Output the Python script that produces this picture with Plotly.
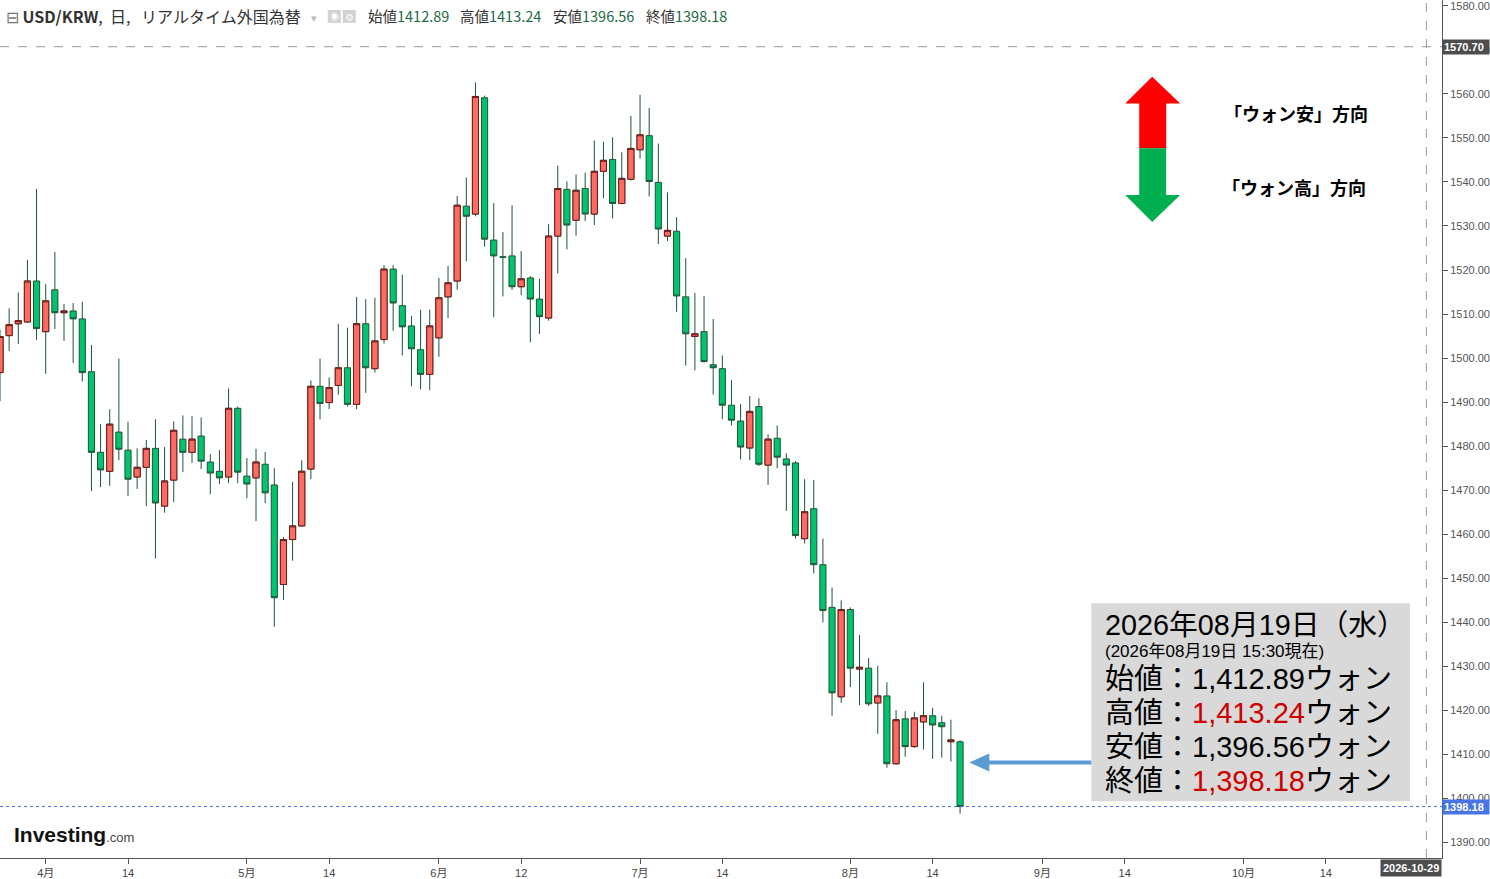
import pandas as pd
import plotly.graph_objects as go

# USD/KRW 日足 (営業日のみ)
dates = pd.bdate_range("2026-03-25", "2026-08-19")

opens = [1496.7, 1505.1, 1507.8, 1508.2, 1517.5, 1506.0, 1515.5, 1510.3, 1510.7, 1508.9,
         1496.9, 1478.6, 1474.3, 1483.2, 1479.1, 1473.0, 1475.2, 1479.5, 1466.4, 1472.3,
         1481.6, 1478.6, 1482.3, 1476.4, 1474.3, 1473.0, 1488.6, 1473.2, 1472.8, 1475.9,
         1471.2, 1448.6, 1458.8, 1461.9, 1474.8, 1493.6, 1489.9, 1493.8, 1497.8, 1489.5,
         1507.8, 1497.6, 1504.2, 1520.2, 1511.9, 1507.3, 1501.9, 1496.3, 1504.6, 1513.9,
         1517.5, 1534.5, 1532.7, 1559.1, 1526.8, 1523.0, 1523.2, 1516.2, 1518.2, 1513.4,
         1509.1, 1527.7, 1538.3, 1531.3, 1538.5, 1532.7, 1542.4, 1545.1, 1535.1, 1540.6,
         1547.3, 1550.5, 1539.9, 1527.7, 1528.8, 1513.9, 1504.9, 1506.0, 1498.5, 1497.6,
         1489.3, 1485.7, 1479.6, 1489.0, 1475.7, 1481.8, 1477.1, 1476.2, 1459.0, 1465.8,
         1453.1, 1443.4, 1423.1, 1442.9, 1429.4, 1429.6, 1421.7, 1423.3, 1407.9, 1418.1,
         1411.8, 1417.4, 1418.8, 1417.2, 1412.9, 1412.89]
highs = [1506.4, 1511.3, 1514.9, 1522.3, 1538.4, 1516.8, 1524.1, 1512.3, 1512.5, 1512.8,
         1503.0, 1485.0, 1488.4, 1499.9, 1485.6, 1479.5, 1481.4, 1486.1, 1479.8, 1485.6,
         1487.0, 1486.8, 1486.5, 1478.2, 1479.1, 1493.1, 1489.0, 1477.3, 1479.4, 1478.7,
         1475.0, 1459.4, 1471.9, 1476.8, 1494.9, 1499.9, 1495.6, 1507.8, 1506.9, 1513.9,
         1513.4, 1513.7, 1521.1, 1521.1, 1518.9, 1509.6, 1511.0, 1511.0, 1518.2, 1520.9,
         1536.8, 1541.0, 1562.6, 1559.6, 1535.2, 1528.6, 1534.7, 1524.3, 1518.6, 1518.0,
         1530.4, 1543.7, 1540.1, 1541.7, 1542.1, 1549.4, 1549.1, 1550.1, 1546.7, 1555.0,
         1559.8, 1556.8, 1548.7, 1537.6, 1532.0, 1522.7, 1514.8, 1514.1, 1508.9, 1500.6,
         1495.0, 1489.6, 1491.4, 1490.9, 1482.7, 1484.7, 1478.4, 1476.6, 1472.5, 1472.3,
         1459.0, 1447.9, 1445.0, 1443.4, 1437.1, 1431.9, 1430.1, 1426.4, 1420.1, 1419.9,
         1419.7, 1426.4, 1420.6, 1418.8, 1417.9, 1413.24]
lows = [1490.2, 1501.6, 1503.2, 1508.1, 1504.1, 1496.4, 1506.6, 1503.9, 1498.9, 1494.7,
        1469.8, 1470.7, 1471.0, 1476.8, 1468.7, 1470.3, 1466.4, 1454.5, 1464.9, 1467.3,
        1474.1, 1476.2, 1474.8, 1469.1, 1471.4, 1471.6, 1471.6, 1468.2, 1463.0, 1467.1,
        1439.0, 1445.1, 1454.0, 1461.7, 1472.5, 1486.1, 1488.4, 1491.7, 1489.0, 1488.4,
        1492.1, 1496.7, 1503.3, 1506.2, 1500.6, 1493.6, 1492.9, 1492.7, 1500.3, 1509.1,
        1515.5, 1522.0, 1532.2, 1525.3, 1509.3, 1514.0, 1515.5, 1514.3, 1503.6, 1505.5,
        1508.5, 1519.2, 1524.7, 1527.8, 1531.1, 1530.2, 1536.3, 1531.7, 1534.9, 1540.3,
        1545.3, 1536.7, 1525.9, 1526.6, 1510.5, 1498.3, 1497.2, 1499.0, 1491.7, 1486.1,
        1484.7, 1477.0, 1476.8, 1475.5, 1471.2, 1475.0, 1465.3, 1459.0, 1457.9, 1451.1,
        1440.0, 1418.8, 1421.7, 1425.3, 1421.2, 1421.0, 1414.7, 1407.0, 1407.7, 1409.5,
        1411.5, 1411.1, 1409.0, 1409.3, 1408.4, 1396.56]
closes = [1504.9, 1507.6, 1508.5, 1517.5, 1506.7, 1513.0, 1510.3, 1510.7, 1508.9, 1496.7,
          1478.6, 1474.6, 1485.0, 1479.3, 1472.5, 1475.2, 1479.5, 1467.1, 1472.1, 1483.6,
          1478.6, 1481.6, 1476.6, 1473.9, 1472.8, 1488.6, 1474.1, 1471.4, 1476.4, 1469.4,
          1445.6, 1458.8, 1461.9, 1474.3, 1493.6, 1489.7, 1493.3, 1497.8, 1489.5, 1507.8,
          1497.8, 1503.9, 1520.2, 1512.5, 1507.1, 1502.1, 1496.3, 1507.3, 1513.7, 1517.1,
          1534.7, 1532.2, 1559.4, 1527.0, 1523.2, 1522.9, 1516.2, 1518.0, 1513.4, 1509.4,
          1527.7, 1538.5, 1530.2, 1538.1, 1532.7, 1542.4, 1544.9, 1535.1, 1540.8, 1547.6,
          1550.7, 1540.1, 1529.3, 1529.0, 1514.1, 1505.5, 1505.5, 1499.2, 1497.8, 1489.3,
          1485.9, 1479.8, 1487.9, 1475.9, 1481.6, 1477.5, 1475.7, 1459.7, 1465.1, 1453.1,
          1442.7, 1424.0, 1442.9, 1429.6, 1429.8, 1421.5, 1423.3, 1407.9, 1417.9, 1411.8,
          1418.3, 1418.8, 1416.7, 1416.3, 1413.3, 1398.18]

tick_dates = ["2026-04-01", "2026-04-14", "2026-05-01", "2026-05-14", "2026-06-01", "2026-06-12",
              "2026-07-01", "2026-07-14", "2026-08-03", "2026-08-14", "2026-09-01", "2026-09-14",
              "2026-10-01", "2026-10-14"]
tick_labels = ["4月", "14", "5月", "14", "6月", "12", "7月", "14", "8月", "14", "9月", "14", "10月", "14"]

crosshair_date = "2026-10-29"
crosshair_price = 1570.70

UP_FILL, UP_LINE = "#FF6A61", "#6E1B1B"
DOWN_FILL, WICK = "#00C46E", "#1C5436"
AXIS = "#555555"
JP = "Noto Sans CJK JP"
LAT = "Liberation Sans, Noto Sans CJK JP"
NB = "\u00a0"

# 描画領域のピクセル -> paper座標
PLOT_W, PLOT_H = 1443, 862


def px(x, y):
    return x / PLOT_W, 1 - y / PLOT_H


def path(points):
    pts = [px(x, y) for x, y in points]
    return "M " + " L ".join(f"{a:.5f},{b:.5f}" for a, b in pts) + " Z"


def rect(x0, y0, x1, y1, color):
    return dict(type="rect", xref="paper", yref="paper", fillcolor=color, line=dict(width=0),
                x0=px(x0, 0)[0], x1=px(x1, 0)[0], y0=px(0, y1)[1], y1=px(0, y0)[1])


fig = go.Figure()

# ヒゲ(全て濃緑)と陰線
fig.add_trace(go.Candlestick(
    x=dates, open=opens, high=highs, low=lows, close=closes,
    increasing=dict(line=dict(color=WICK, width=1), fillcolor=UP_FILL),
    decreasing=dict(line=dict(color=WICK, width=1), fillcolor=DOWN_FILL),
    whiskerwidth=0, hoverinfo="skip",
))

# 陽線の実体(赤枠)を上から重ねる
up = [i for i in range(len(dates)) if closes[i] > opens[i]]
fig.add_trace(go.Candlestick(
    x=[dates[i] for i in up],
    open=[opens[i] for i in up], close=[closes[i] for i in up],
    high=[closes[i] for i in up], low=[opens[i] for i in up],
    increasing=dict(line=dict(color=UP_LINE, width=1), fillcolor=UP_FILL),
    whiskerwidth=0, hoverinfo="skip",
))

shapes = [
    dict(type="line", xref="x", yref="paper", x0=crosshair_date, x1=crosshair_date, y0=0, y1=1,
         line=dict(color="#999", width=1, dash="dash")),
    dict(type="line", xref="paper", yref="y", x0=0, x1=1, y0=crosshair_price, y1=crosshair_price,
         line=dict(color="#999", width=1, dash="dash")),
    dict(type="line", xref="paper", yref="y", x0=0, x1=1, y0=closes[-1], y1=closes[-1],
         line=dict(color="#3D6FE3", width=1, dash="dot")),
    # ウォン安/ウォン高 矢印
    dict(type="path", xref="paper", yref="paper", fillcolor="#FF0000", line=dict(width=0),
         path=path([(1153, 77), (1181, 104), (1167, 104), (1167, 149), (1140, 149), (1140, 104), (1126, 104)])),
    dict(type="path", xref="paper", yref="paper", fillcolor="#00B050", line=dict(width=0),
         path=path([(1140, 149), (1167, 149), (1167, 196), (1181, 196), (1153, 223), (1126, 196), (1140, 196)])),
    # 情報ボックス
    rect(1092, 606, 1411, 805, "#D9D9D9"),
    # 青い矢印
    dict(type="line", xref="paper", yref="paper", line=dict(color="#5B9BD5", width=4),
         x0=px(986, 0)[0], x1=px(1092, 0)[0], y0=px(0, 766)[1], y1=px(0, 766)[1]),
    dict(type="path", xref="paper", yref="paper", fillcolor="#5B9BD5", line=dict(width=0),
         path=path([(970, 766), (990, 757), (990, 775)])),
    # ヘッダーのアイコン
    rect(328, 10, 341, 23, "#D2D2D2"),
    rect(343, 10, 356, 23, "#D2D2D2"),
]

annotations = []


def note(text, x, y, size, family=JP, color="#000", xanchor="left", **kw):
    xx, yy = px(x, y)
    annotations.append(dict(text=text, x=xx, y=yy, xref="paper", yref="paper", showarrow=False,
                            xanchor=xanchor, yanchor="middle", font=dict(family=family, size=size, color=color), **kw))


# ヘッダー
names = ["始値", "高値", "安値", "終値"]
last = [opens[-1], highs[-1], lows[-1], closes[-1]]
note(f"<span style='color:#777'>⊟</span> <b>USD/KRW</b>,{NB}{NB}日,{NB}{NB}{NB}リアルタイム外国為替", 4, 16, 16, color="#333")
note("▾", 309, 17, 11, color="#bbb")
note("◉", 334.5, 16.5, 9, color="#fff", xanchor="center")
note("⚙", 349.5, 16.5, 10, color="#fff", xanchor="center")
for k, (n, v) in enumerate(zip(names, last)):
    note(f"{n}<span style='color:#1E6B43'>{v:.2f}</span>", 366 + k * 92.7, 16, 14.5, color="#333")

# 方向ラベル
note("<b>「ウォン安」方向</b>", 1223, 114, 18)
note("<b>「ウォン高」方向</b>", 1221, 188, 18)

# 情報ボックスの文字
d = dates[-1]
wd = "月火水木金土日"[d.weekday()]
note(f"{d.year}年{d.month:02d}月{d.day:02d}日（{wd}）", 1104, 628, 28.8, family=LAT)
note(f"({d.year}年{d.month:02d}月{d.day:02d}日 15:30現在)", 1104, 655, 17, family=LAT)
red = [False, True, False, True]
for k, (n, v) in enumerate(zip(names, last)):
    num = f"{v:,.2f}"
    if red[k]:
        num = f"<span style='color:#CC0000'>{num}</span>"
    note(f"{n}：{num}ウォン", 1104, 682 + k * 34.3, 29, family=LAT)

# Investing.com ロゴ
note("<b>Investing</b><span style='font-size:13px;color:#444'>.com</span>", 12, 838, 21,
     family="Liberation Sans Narrow, Liberation Sans", color="#111")

# 軸上の価格・日付ラベル
annotations.append(dict(text=f"<b>{crosshair_price:.2f}</b>", x=1, y=crosshair_price, xref="paper", yref="y",
                        showarrow=False, xanchor="left", yanchor="middle", bgcolor="#4D4D4D", borderpad=1,
                        width=44, align="left", font=dict(family=LAT, size=11, color="#fff")))
annotations.append(dict(text=f"<b>{closes[-1]:.2f}</b>", x=1, y=closes[-1], xref="paper", yref="y",
                        showarrow=False, xanchor="left", yanchor="middle", bgcolor="#4775E6", borderpad=1,
                        width=44, align="left", font=dict(family=LAT, size=11, color="#fff")))
annotations.append(dict(text=f"<b>{crosshair_date}</b>", x=1, y=px(0, 872)[1], xref="paper", yref="paper",
                        showarrow=False, xanchor="right", yanchor="middle", bgcolor="#4D4D4D", borderpad=2,
                        font=dict(family=LAT, size=11, color="#fff")))

fig.update_layout(
    width=1490, height=879,
    margin=dict(l=0, r=1490 - PLOT_W, t=0, b=879 - PLOT_H),
    paper_bgcolor="white", plot_bgcolor="white",
    showlegend=False, boxgap=0.33, boxgroupgap=0,
    shapes=shapes, annotations=annotations,
    xaxis=dict(
        type="date", range=["2026-03-25", "2026-10-30 17:00"],
        rangebreaks=[dict(bounds=["sat", "mon"])],
        rangeslider=dict(visible=False),
        tickmode="array", tickvals=tick_dates, ticktext=tick_labels,
        ticks="outside", ticklen=5, tickcolor=AXIS,
        showline=True, linecolor=AXIS, showgrid=False, zeroline=False,
        tickfont=dict(family=LAT, size=11, color="#444"),
    ),
    yaxis=dict(
        side="right", range=[1386.5, 1581.3], dtick=10, tick0=1390, tickformat=".2f",
        ticks="outside", ticklen=5, tickcolor=AXIS, ticklabeloverflow="allow",
        showline=True, linecolor=AXIS, showgrid=False, zeroline=False,
        tickfont=dict(family=LAT, size=11, color="#555"),
    ),
)

fig.write_html("out.html", config={"displayModeBar": False},
               post_script="document.body.style.margin='0';document.body.style.overflow='hidden';")
